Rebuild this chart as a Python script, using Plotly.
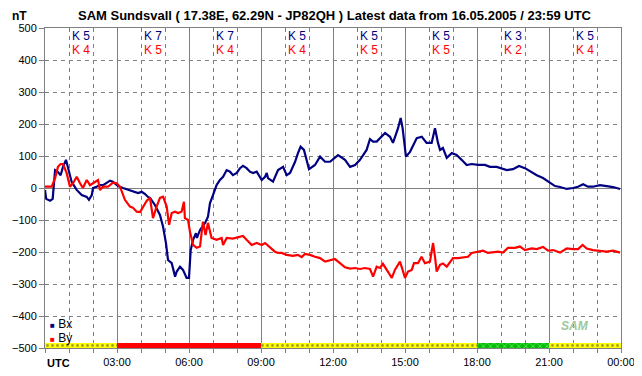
import plotly.graph_objects as go

# ---- data (hours UTC, nT) ----
bx_t = [0.0, 0.05, 0.21, 0.32, 0.42, 0.54, 0.65, 0.75, 0.875, 0.96, 1.11, 1.32, 1.53, 1.74, 1.83, 1.95,
        2.0, 2.15, 2.29, 2.42, 2.57, 2.71, 2.83, 3.04, 3.25, 3.46, 3.67, 3.875, 4.03, 4.17, 4.29, 4.375,
        4.58, 4.79, 4.92, 5.04, 5.125, 5.28, 5.42, 5.49, 5.625, 5.75, 5.90, 6.0, 6.07, 6.17, 6.29, 6.33,
        6.46, 6.67, 6.79, 6.875, 7.0, 7.15, 7.29, 7.42, 7.57, 7.71, 7.83, 7.99, 8.125, 8.25, 8.40, 8.54,
        8.67, 8.82, 9.03, 9.17, 9.24, 9.29, 9.5, 9.71, 9.92, 10.07, 10.21, 10.42, 10.54, 10.65, 10.79,
        10.90, 11.0, 11.25, 11.46, 11.67, 11.875, 12.21, 12.5, 12.71, 12.92, 13.125, 13.40, 13.54, 13.67,
        13.82, 14.17, 14.375, 14.5, 14.71, 14.82, 14.90, 15.04, 15.21, 15.49, 15.70, 15.90, 16.11, 16.25,
        16.375, 16.46, 16.58, 16.74, 16.95, 17.15, 17.36, 17.57, 17.78, 18.04, 18.33, 18.54, 18.82, 19.03,
        19.24, 19.5, 19.75, 20.0, 20.28, 20.49, 20.75, 21.04, 21.25, 21.46, 21.74, 22.0, 22.21, 22.42,
        22.625, 22.83, 23.125, 23.40, 23.67, 23.96]
bx_v = [-6, -34, -40, -34, 56, 50, 40, 66, 88, 66, 19, -6, -22, -28, -37, -22,
        0, 4, 9, 9, 15, 23, 20, 6, 0, -6, -12, -16, -12, -19, -28, -31,
        -53, -84, -121, -172, -225, -235, -277, -261, -246, -256, -281, -281, -194, -162, -141, -156,
        -131, -109, -90, -47, -22, 9, 25, 35, 56, 51, 40, 47, 62, 69, 62, 51,
        47, 51, 25, 35, 47, 31, 20, 56, 66, 40, 47, 82, 109, 129, 119,
        82, 59, 72, 98, 82, 82, 103, 88, 66, 72, 88, 119, 153, 145,
        145, 172, 160, 141, 187, 219, 187, 98, 113, 156, 160, 141, 141, 187,
        141, 119, 125, 94, 109, 103, 88, 72, 75, 72, 72, 66, 66, 62,
        56, 59, 69, 62, 48, 40, 31, 15, 6, 3, -3, 0, 4, 12,
        4, 4, 9, 6, 3, -3]

by_t = [0.0, 0.28, 0.42, 0.54, 0.65, 0.75, 0.90, 1.04, 1.17, 1.32, 1.46, 1.58, 1.74, 1.875, 2.0, 2.21,
        2.29, 2.42, 2.625, 2.83, 2.99, 3.125, 3.33, 3.54, 3.67, 3.82, 3.96, 4.08, 4.24, 4.375, 4.5, 4.65,
        4.79, 4.92, 5.07, 5.17, 5.28, 5.42, 5.54, 5.69, 5.79, 5.83, 5.96, 6.04, 6.17, 6.32, 6.46, 6.58,
        6.69, 6.79, 6.94, 7.15, 7.36, 7.42, 7.57, 7.83, 8.125, 8.25, 8.40, 8.61, 8.82, 9.03, 9.17, 9.375,
        9.58, 9.71, 9.86, 10.07, 10.33, 10.54, 10.69, 10.83, 11.04, 11.25, 11.46, 11.67, 11.875, 12.08,
        12.29, 12.5, 12.71, 12.92, 13.125, 13.33, 13.54, 13.67, 13.82, 13.96, 14.08, 14.24, 14.45, 14.58,
        14.79, 14.90, 15.0, 15.125, 15.28, 15.375, 15.54, 15.69, 15.83, 16.04, 16.17, 16.25, 16.32, 16.46,
        16.58, 16.74, 16.875, 17.0, 17.21, 17.42, 17.625, 17.78, 18.04, 18.25, 18.46, 18.67, 18.875, 19.08,
        19.29, 19.58, 19.79, 20.0, 20.28, 20.49, 20.75, 20.96, 21.17, 21.46, 21.74, 22.0, 22.21, 22.40,
        22.57, 22.83, 23.125, 23.40, 23.67, 23.96]
by_v = [4, 4, 31, 66, 75, 75, 47, 4, 15, 35, 15, 0, 25, 9, 15, 25,
        -6, 4, 4, 17, 15, 4, -37, -58, -62, -74, -75, -60, -40, -31, -94, -58,
        -31, -27, -58, -115, -78, -74, -78, -74, -43, -94, -100, -137, -178, -187, -183, -105,
        -147, -109, -156, -162, -156, -178, -156, -158, -152, -150, -162, -178, -172, -178, -172, -187,
        -199, -203, -203, -209, -212, -209, -216, -206, -209, -215, -219, -230, -225, -222,
        -235, -248, -252, -250, -253, -250, -253, -277, -246, -250, -237, -256, -281, -256,
        -230, -256, -281, -261, -256, -235, -235, -215, -235, -230, -172, -215, -261, -240,
        -236, -246, -230, -219, -219, -217, -215, -203, -199, -196, -203, -202, -199, -202,
        -187, -187, -183, -194, -189, -191, -184, -196, -194, -202, -189, -191, -191, -178,
        -189, -194, -196, -199, -196, -202]

k_centers = [1.5, 4.5, 7.5, 10.5, 13.5, 16.5, 19.5, 22.5]
k_bx = [5, 7, 7, 5, 5, 5, 3, 5]
k_by = [4, 5, 4, 4, 5, 5, 2, 4]
tick_hours = [0, 3, 6, 9, 12, 15, 18, 21, 24]
tick_text = ["", "03:00", "06:00", "09:00", "12:00", "15:00", "18:00", "21:00", "00:00"]

BLUE = "#000080"
RED = "#ff0000"
GRAY = "#808080"
FONT = "Liberation Sans, Arial, sans-serif"

def band_style(k):
    if k >= 6:
        return "#ff0000", "", "#ff0000"
    if k <= 3:
        return "#00c000", "x", "#006000"
    return "#ffff00", ".", "#ff0000"

styles = [band_style(k) for k in k_bx]

fig = go.Figure()
fig.add_trace(go.Bar(
    x=k_centers, y=[16] * len(k_centers), base=-500, width=3,
    marker=dict(color=[s[0] for s in styles], line=dict(width=0),
                pattern=dict(shape=[s[1] for s in styles], fgcolor=[s[2] for s in styles],
                             fillmode="overlay", size=5, solidity=0.25)),
    showlegend=False, hoverinfo="skip"))
fig.add_trace(go.Scatter(x=bx_t, y=bx_v, mode="lines", line=dict(color=BLUE, width=2.2),
                         showlegend=False))
fig.add_trace(go.Scatter(x=by_t, y=by_v, mode="lines", line=dict(color=RED, width=2.2),
                         showlegend=False))

# K index labels
for c, a, b in zip(k_centers, k_bx, k_by):
    fig.add_annotation(x=c, y=475, xref="x", yref="y", text=f"K {a}", showarrow=False,
                       font=dict(family=FONT, size=12, color=BLUE))
    fig.add_annotation(x=c, y=431, xref="x", yref="y", text=f"K {b}", showarrow=False,
                       font=dict(family=FONT, size=12, color=RED))

# legend
fig.add_annotation(x=0.005, y=0.075, xref="paper", yref="paper", xanchor="left", yanchor="middle",
                   text=f"<span style='color:{BLUE};font-size:8px'>■</span> Bx", showarrow=False,
                   font=dict(family=FONT, size=12, color="black"))
fig.add_annotation(x=0.005, y=0.03, xref="paper", yref="paper", xanchor="left", yanchor="middle",
                   text=f"<span style='color:{RED};font-size:8px'>■</span> By", showarrow=False,
                   font=dict(family=FONT, size=12, color="black"))

# title, units
fig.add_annotation(x=0.503, y=1.038, xref="paper", yref="paper", xanchor="center", yanchor="middle",
                   text="<b>SAM Sundsvall ( 17.38E, 62.29N - JP82QH ) Latest data from 16.05.2005 / 23:59 UTC</b>",
                   showarrow=False, font=dict(family=FONT, size=13, color="black"))
fig.add_annotation(x=-0.045, y=1.038, xref="paper", yref="paper", xanchor="center", yanchor="middle",
                   text="<b>nT</b>", showarrow=False, font=dict(family=FONT, size=12, color="black"))
fig.add_annotation(x=0.0, y=-0.022, xref="paper", yref="paper", xanchor="left", yanchor="top",
                   text="<b>UTC</b>", showarrow=False, font=dict(family=FONT, size=11, color="black"))
# logo text
fig.add_annotation(x=0.92, y=0.07, xref="paper", yref="paper", xanchor="center", yanchor="middle",
                   text="<i><b>SAM</b></i>", showarrow=False, font=dict(family=FONT, size=12, color="#9cc89c"))

# page body has an 8px default margin: size the figure so the plot area lands at x 45-621, y 28-348
fig.update_layout(
    width=634, height=368, margin=dict(l=37, r=21, t=20, b=28, autoexpand=False),
    paper_bgcolor="white", plot_bgcolor="white", bargap=0,
    font=dict(family=FONT, size=11, color="black"),
)
fig.update_xaxes(
    range=[0, 24], tickmode="array", tickvals=tick_hours, ticktext=tick_text,
    showgrid=True, gridcolor=GRAY, gridwidth=1,
    ticks="outside", ticklen=4, tickcolor=GRAY,
    showline=True, linecolor=GRAY, mirror=True, zeroline=False,
    minor=dict(tickmode="linear", tick0=0, dtick=1, showgrid=True, gridcolor=GRAY,
               griddash="4px,4px", ticks="outside", ticklen=4, tickcolor=GRAY),
    tickfont=dict(size=11), fixedrange=True, automargin=False,
)
fig.update_yaxes(
    range=[-500, 500], tickmode="linear", tick0=-500, dtick=100,
    showgrid=True, gridcolor=GRAY, griddash="4px,4px",
    zeroline=True, zerolinecolor=GRAY, zerolinewidth=1,
    ticks="outside", ticklen=5, tickcolor=GRAY,
    showline=True, linecolor=GRAY, mirror=True,
    tickfont=dict(size=11), fixedrange=True, automargin=False,
)

fig.write_html("out.html")
